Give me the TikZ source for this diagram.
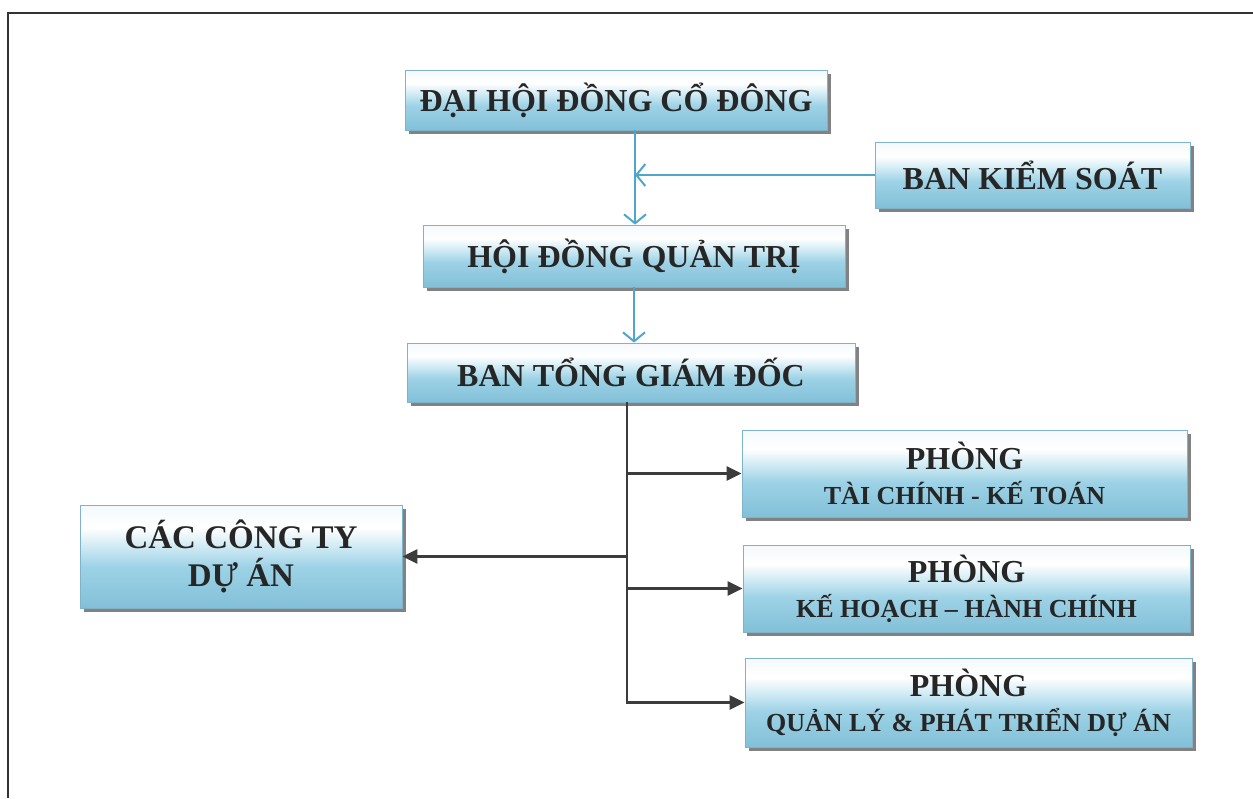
\documentclass[tikz,border=0pt]{standalone}
\usepackage{fontspec}
\setmainfont{Liberation Serif}
\usetikzlibrary{arrows.meta,shadows}
\definecolor{shA}{HTML}{82C0D8}
\definecolor{shB}{HTML}{9DD2E6}
\definecolor{shC}{HTML}{D5EDF5}
\definecolor{shD}{HTML}{FFFFFF}
\definecolor{shE}{HTML}{F4F9FB}
\definecolor{edgeblue}{HTML}{7FB3CC}
\definecolor{linkblue}{HTML}{4FA6CC}
\definecolor{linkdark}{HTML}{3C3C3C}
\definecolor{txt}{HTML}{262626}
\pgfdeclareverticalshading{boxshade}{100bp}{color(0bp)=(shA); color(25bp)=(shA); color(45bp)=(shB); color(56bp)=(shC); color(64bp)=(shD); color(75bp)=(shE); color(100bp)=(shE)}
\tikzset{
  orgbox/.style={draw=edgeblue, line width=0.8pt, shading=boxshade,
    general shadow={shadow xshift=3.5pt, shadow yshift=-3.5pt, fill=black!65, opacity=0.75},
    align=center, text=txt, inner sep=0pt,
    font=\fontsize{32}{36}\selectfont\bfseries},
  bluelink/.style={draw=linkblue, line width=2pt,
    -{Straight Barb[length=9pt,width=22pt,line width=2pt]}},
  darklink/.style={draw=linkdark, line width=2.5pt,
    -{Triangle[length=15pt,width=14pt]}},
}
\newcommand{\orgbig}[1]{{\fontsize{32}{34}\selectfont\bfseries #1}}
\newcommand{\orgsml}[1]{{\fontsize{26}{28}\selectfont\bfseries #1}}
\begin{document}
\begin{tikzpicture}[x=1pt,y=-1pt]
\useasboundingbox (0,0) rectangle (1253,798);
\fill[white] (0,0) rectangle (1253,798);
\draw[line width=2.5pt, black!80] (8,798) -- (8,13) -- (1253,13);

\node[orgbox, minimum width=422pt, minimum height=60pt] (dh) at (616,100) {ĐẠI HỘI ĐỒNG CỔ ĐÔNG};
\node[orgbox, minimum width=315pt, minimum height=66pt] (bks) at (1032.5,175) {BAN KIỂM SOÁT};
\node[orgbox, minimum width=422pt, minimum height=62pt] (hd) at (634,256) {HỘI ĐỒNG QUẢN TRỊ};
\node[orgbox, minimum width=448pt, minimum height=59pt] (btgd) at (631,372.5) {BAN TỔNG GIÁM ĐỐC};
\node[orgbox, minimum width=445pt, minimum height=87pt] (p1) at (964.5,473.5) {\orgbig{PHÒNG}\\[-1pt]\orgsml{TÀI CHÍNH - KẾ TOÁN}};
\node[orgbox, minimum width=447pt, minimum height=87pt] (p2) at (966.5,588.5) {\orgbig{PHÒNG}\\[-1pt]\orgsml{KẾ HOẠCH – HÀNH CHÍNH}};
\node[orgbox, minimum width=447pt, minimum height=89pt] (p3) at (968.5,702.5) {\orgbig{PHÒNG}\\[-1pt]\orgsml{QUẢN LÝ \& PHÁT TRIỂN DỰ ÁN}};
\node[orgbox, minimum width=322pt, minimum height=103pt, font=\fontsize{33}{38}\selectfont\bfseries] (ct) at (241,556.5) {CÁC CÔNG TY\\DỰ ÁN};

\coordinate (j1) at (635,175);
\coordinate (t) at (627,402);

\draw[bluelink] (dh.south -| j1) -- (hd.north -| j1);
\draw[bluelink] (bks.west) -- (j1);
\draw[bluelink] (hd.south) -- (btgd.north -| hd.south);

\draw[darklink] (btgd.south -| t) |- (p3.west);
\draw[darklink] (p1.west -| t) -- (p1.west);
\draw[darklink] (p2.west -| t) -- (p2.west);
\draw[darklink] (ct.east -| t) -- (ct.east);
\end{tikzpicture}
\end{document}
